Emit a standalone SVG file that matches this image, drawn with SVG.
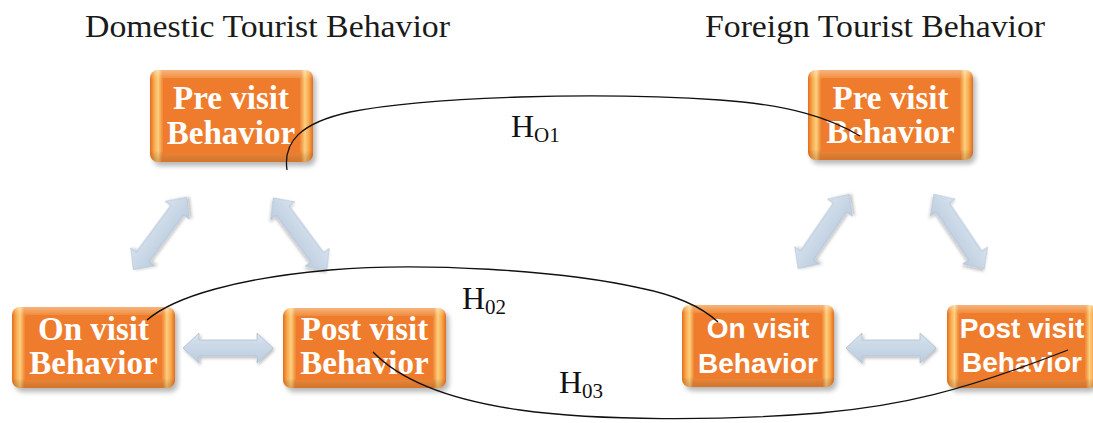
<svg xmlns="http://www.w3.org/2000/svg" width="1093" height="423" viewBox="0 0 1093 423">
  <defs>
    <style>
      .title { font-family: "Liberation Serif", "Times New Roman", serif; font-size: 32px; fill: #1a1a1a; }
      .lbl-serif { font-family: "Liberation Serif", "Times New Roman", serif; font-weight: bold; font-size: 33px; fill: #ffffff; text-anchor: middle; }
      .lbl-sans { font-family: "Liberation Sans", Arial, sans-serif; font-weight: bold; font-size: 28px; fill: #ffffff; text-anchor: middle; }
      .bevel { fill: url(#bevelH); }
      .gloss { fill: url(#bevelV); }
      .face { fill: #ef7c2d; }
      .shadow { fill: #000000; opacity: 0.28; filter: url(#soft); }
      .hyp { fill: none; stroke: #111111; stroke-width: 1.3; }
      .dbl { fill: url(#arrowFill); stroke: #aebfd2; stroke-width: 0.8; filter: url(#arrowShadow); }
      .h { font-family: "Liberation Serif", "Times New Roman", serif; font-size: 32px; fill: #111111; }
      .sub { font-size: 21px; }
    </style>
    <linearGradient id="bevelH" x1="0" y1="0" x2="1" y2="0">
      <stop offset="0" stop-color="#e36c1d"/>
      <stop offset="0.025" stop-color="#f8a84c"/>
      <stop offset="0.05" stop-color="#fcd07e"/>
      <stop offset="0.075" stop-color="#f18c3a"/>
      <stop offset="0.925" stop-color="#f18c3a"/>
      <stop offset="0.95" stop-color="#fcd07e"/>
      <stop offset="0.975" stop-color="#f8a84c"/>
      <stop offset="1" stop-color="#e36c1d"/>
    </linearGradient>
    <linearGradient id="bevelV" x1="0" y1="0" x2="0" y2="1">
      <stop offset="0" stop-color="#ffffff" stop-opacity="0.35"/>
      <stop offset="0.1" stop-color="#ffffff" stop-opacity="0"/>
      <stop offset="0.88" stop-color="#000000" stop-opacity="0"/>
      <stop offset="1" stop-color="#8a2e00" stop-opacity="0.25"/>
    </linearGradient>
    <linearGradient id="arrowFill" x1="0" y1="0" x2="0" y2="1">
      <stop offset="0" stop-color="#d6e2ee"/>
      <stop offset="1" stop-color="#bccddf"/>
    </linearGradient>
    <filter id="soft" x="-10%" y="-10%" width="120%" height="130%">
      <feGaussianBlur stdDeviation="2.5"/>
    </filter>
    <filter id="arrowShadow" x="-30%" y="-60%" width="160%" height="220%">
      <feDropShadow dx="1.5" dy="2" stdDeviation="1.5" flood-color="#000000" flood-opacity="0.25"/>
    </filter>
    <!-- double-headed block arrow, 90px long, centred on the origin -->
    <path id="dblArrow" d="M-45,0 L-29,-15 L-29,-8 L29,-8 L29,-15 L45,0 L29,15 L29,8 L-29,8 L-29,15 Z"/>
  </defs>

  <rect width="1093" height="423" fill="#ffffff"/>

  <!-- headings -->
  <text class="title" x="85" y="37" textLength="365" lengthAdjust="spacingAndGlyphs">Domestic Tourist Behavior</text>
  <text class="title" x="705" y="37" textLength="340" lengthAdjust="spacingAndGlyphs">Foreign Tourist Behavior</text>

  <!-- block arrows between stages -->
  <g id="stage-arrows">
    <use href="#dblArrow" class="dbl" transform="translate(160,233.5) rotate(-53.5)"/>
    <use href="#dblArrow" class="dbl" transform="translate(300,234) rotate(53.5)"/>
    <use href="#dblArrow" class="dbl" transform="translate(228,348)"/>
    <use href="#dblArrow" class="dbl" transform="translate(823.5,231.5) rotate(-55.5)"/>
    <use href="#dblArrow" class="dbl" transform="translate(959,231.5) rotate(56)"/>
    <use href="#dblArrow" class="dbl" transform="translate(891,348)"/>
  </g>

  <!-- domestic: pre visit -->
  <g id="dom-pre">
    <rect class="shadow" x="153" y="74" width="163" height="92" rx="8"/>
    <rect class="bevel" x="150" y="70" width="163" height="92" rx="8"/>
    <rect class="gloss" x="150" y="70" width="163" height="92" rx="8"/>
    <rect class="face" x="163" y="78" width="137" height="76" rx="2"/>
    <text class="lbl-serif" x="231" y="109">Pre visit</text>
    <text class="lbl-serif" x="231" y="144">Behavior</text>
  </g>

  <!-- domestic: on visit -->
  <g id="dom-on">
    <rect class="shadow" x="15" y="311" width="163" height="81" rx="8"/>
    <rect class="bevel" x="12" y="307" width="163" height="81" rx="8"/>
    <rect class="gloss" x="12" y="307" width="163" height="81" rx="8"/>
    <rect class="face" x="25" y="315" width="137" height="65" rx="2"/>
    <text class="lbl-serif" x="93.5" y="340">On visit</text>
    <text class="lbl-serif" x="93.5" y="374">Behavior</text>
  </g>

  <!-- domestic: post visit -->
  <g id="dom-post">
    <rect class="shadow" x="286" y="312" width="163" height="80" rx="8"/>
    <rect class="bevel" x="283" y="308" width="163" height="80" rx="8"/>
    <rect class="gloss" x="283" y="308" width="163" height="80" rx="8"/>
    <rect class="face" x="296" y="316" width="137" height="64" rx="2"/>
    <text class="lbl-serif" x="364.5" y="340">Post visit</text>
    <text class="lbl-serif" x="364.5" y="374">Behavior</text>
  </g>

  <!-- foreign: pre visit -->
  <g id="for-pre">
    <rect class="shadow" x="811" y="74" width="165" height="90" rx="8"/>
    <rect class="bevel" x="808" y="70" width="165" height="90" rx="8"/>
    <rect class="gloss" x="808" y="70" width="165" height="90" rx="8"/>
    <rect class="face" x="821" y="78" width="139" height="74" rx="2"/>
    <text class="lbl-serif" x="890.5" y="109">Pre visit</text>
    <text class="lbl-serif" x="890.5" y="143">Behavior</text>
  </g>

  <!-- foreign: on visit -->
  <g id="for-on">
    <rect class="shadow" x="685" y="309" width="152" height="82" rx="8"/>
    <rect class="bevel" x="682" y="305" width="152" height="82" rx="8"/>
    <rect class="gloss" x="682" y="305" width="152" height="82" rx="8"/>
    <rect class="face" x="694" y="313" width="128" height="66" rx="2"/>
    <text class="lbl-sans" x="758" y="338">On visit</text>
    <text class="lbl-sans" x="758" y="373">Behavior</text>
  </g>

  <!-- foreign: post visit -->
  <g id="for-post">
    <rect class="shadow" x="950" y="309" width="148" height="83" rx="8"/>
    <rect class="bevel" x="947" y="305" width="150" height="83" rx="8"/>
    <rect class="gloss" x="947" y="305" width="150" height="83" rx="8"/>
    <rect class="face" x="959" y="313" width="126" height="67" rx="2"/>
    <text class="lbl-sans" x="1022" y="338">Post visit</text>
    <text class="lbl-sans" x="1022" y="372">Behavior</text>
  </g>

  <!-- hypothesis links -->
  <g id="connectors">
    <path class="hyp" d="M287,170 C283,142 300,123 350,112 C430,96 600,92 720,100 C790,105 830,118 860,136"/>
    <path class="hyp" d="M147,320 C175,296 240,278 330,270 C420,262 560,270 640,288 C680,296 705,310 718,322"/>
    <path class="hyp" d="M373,352 C400,380 450,400 520,410 C600,421 720,421 820,413 C900,406 960,392 1068,350"/>
  </g>

  <!-- hypothesis labels -->
  <text class="h" x="511" y="137">H<tspan class="sub" dy="5">O1</tspan></text>
  <text class="h" x="462" y="309">H<tspan class="sub" dy="5">02</tspan></text>
  <text class="h" x="559" y="393">H<tspan class="sub" dy="5">03</tspan></text>
</svg>
